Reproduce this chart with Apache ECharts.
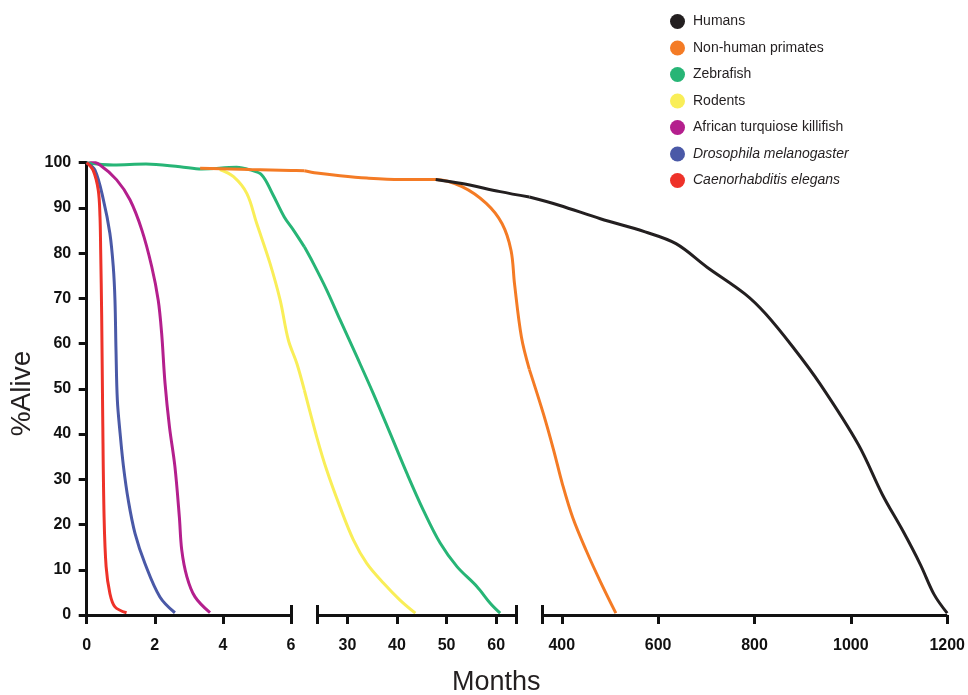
<!DOCTYPE html>
<html>
<head>
<meta charset="utf-8">
<script src="https://cdn.jsdelivr.net/npm/echarts@6/dist/echarts.min.js"></script>
<style>
html,body{margin:0;padding:0;background:#fff;}
#chart{width:968px;height:695px;}
</style>
</head>
<body>
<div id="chart"></div>
<script>
// ---- Data (x in months, y in % alive) ----
// Broken x axis: drawn part of each segment, and each segment's extent up to the gap centres
const segBounds = [[0, 6], [24, 64], [360, 1200]];
const segExtents = [[0, 6.39], [21.31, 66.69], [332.62, 1200]];
const seg1Ticks = [0, 2, 4, 6];
const seg2Ticks = [30, 40, 50, 60];
const seg3Ticks = [400, 600, 800, 1000, 1200];
const yTickStep = 10;

const speciesNames = ['Humans', 'Non-human primates', 'Zebrafish', 'Rodents',
  'African turquiose killifish', 'Drosophila melanogaster', 'Caenorhabditis elegans'];
const speciesColors = ['#231f20', '#f47b25', '#27b576', '#f9ee58', '#b41f8d', '#4a59a7', '#ee3229'];
const italicNames = ['Drosophila melanogaster', 'Caenorhabditis elegans'];

// segment 1 (0–6 months)
const elegans1 = [[0,100],[0.19,98.3],[0.34,93.9],[0.39,88.1],[0.41,80.7],[0.44,66.0],[0.47,43.9],[0.51,21.8],[0.57,10.7],[0.68,4.8],[0.83,1.8],[1.17,0.5]];
const drosophila1 = [[0,100],[0.24,98.4],[0.49,91.8],[0.68,84.4],[0.78,77.0],[0.83,69.6],[0.86,58.6],[0.90,47.5],[0.98,40.2],[1.08,32.8],[1.22,25.4],[1.42,18.0],[1.71,11.4],[2.15,4.0],[2.59,0.5]];
const killifish1 = [[0,100.8],[0.39,99.5],[0.88,96.2],[1.27,91.8],[1.62,85.1],[1.91,77.0],[2.10,69.6],[2.20,62.3],[2.30,51.2],[2.43,41.6],[2.59,32.8],[2.72,21.7],[2.79,14.4],[2.94,8.5],[3.18,4.0],[3.62,0.5]];
const zebrafish1 = [[0,100],[0.78,99.5],[1.74,99.7],[2.74,99.1],[3.38,98.6],[4.4,99.0],[4.8,98.4],[5.14,97.3],[5.45,93.2],[5.8,88.0],[6.07,85.1],[6.39,81.4]];
const rodents1 = [[3.91,98.5],[4.31,96.9],[4.70,93.2],[4.99,86.6],[5.38,77.8],[5.68,69.6],[5.92,60.8],[6.17,55.6],[6.39,49.7]];
const primates1 = [[3.33,98.8],[4.8,98.5],[6.0,98.3],[6.39,98.2]];
// segment 2 (24–64 months)
const zebrafish2 = [[21.31,81.4],[23.1,77.8],[25.8,71.9],[28.5,65.3],[31.9,57.1],[35.2,49.0],[38.6,40.2],[42.0,31.3],[45.3,23.2],[48.7,15.9],[52.1,10.7],[56.1,6.3],[58.8,2.6],[60.8,0.4]];
const rodents2 = [[21.31,49.7],[23.8,39.4],[25.8,32.1],[28.5,23.9],[31.2,16.6],[33.9,11.4],[37.3,7.0],[40.6,3.3],[43.7,0.4]];
const primates2 = [[21.31,98.2],[23.8,97.7],[28.5,97.1],[33.9,96.6],[40.7,96.3],[47.8,96.3],[53.1,94.7],[58.0,91.0],[61.2,86.5],[63.0,80.6],[63.7,73.2],[65.1,61.4],[66.69,54.3]];
const humans2 = [[47.8,96.3],[53.1,95.4],[60.8,93.6],[66.69,92.4]];
// segment 3 (360–1200 months)
const primates3 = [[332.62,54.3],[362,44.4],[383.4,36.3],[401.4,28.9],[422.8,21.5],[451.3,14.1],[480,7.4],[512.2,0.4]];
const humans3 = [[332.62,92.4],[394.3,90.6],[480,87.6],[573,84.7],[637,82.1],[701.5,76.9],[780,71.0],[823,66.6],[880,59.2],[936,51.1],[1015.5,37.7],[1065.6,26.6],[1108.5,18.5],[1144.6,11.1],[1173,4.5],[1200,0.4]];

// drawing order (later on top)
const pieces = [
  ['Zebrafish', 0, zebrafish1], ['Zebrafish', 1, zebrafish2],
  ['Rodents', 0, rodents1], ['Rodents', 1, rodents2],
  ['Non-human primates', 0, primates1], ['Non-human primates', 1, primates2], ['Non-human primates', 2, primates3],
  ['Humans', 1, humans2], ['Humans', 2, humans3],
  ['African turquiose killifish', 0, killifish1],
  ['Drosophila melanogaster', 0, drosophila1],
  ['Caenorhabditis elegans', 0, elegans1]
];

// ---- Layout ----
const gridTop = 162.7, gridBottom = 80;
const gridLeft = [86.7, 304.35, 529.35];
const gridRight = [304.35, 529.35, 952.3];
const ink = '#111';
const fontFam = 'Liberation Sans, Arial, sans-serif';
const labelFont = {fontFamily: fontFam, fontWeight: 'bold', fontSize: 16, color: ink};
const segTicks = [seg1Ticks, seg2Ticks, seg3Ticks];

const grids = gridLeft.map((l, i) => ({left: l, top: gridTop, width: gridRight[i] - l, bottom: gridBottom, containLabel: false}));

const xAxes = [];
segExtents.forEach((ext, i) => {
  const b = segBounds[i];
  const tickVals = Array.from(new Set([b[0], ...segTicks[i], b[1]])).sort((a, c) => a - c);
  xAxes.push({
    type: 'value', gridIndex: i, min: ext[0], max: ext[1], position: 'bottom',
    splitLine: {show: false},
    axisLine: {show: false},
    axisTick: {show: true, inside: false, length: 9, customValues: tickVals, lineStyle: {color: ink, width: 3}},
    axisLabel: Object.assign({show: true, margin: 23, customValues: segTicks[i], formatter: v => String(v)}, labelFont)
  });
});
// break caps (ticks rising above the axis line at segment ends)
const capVals = [[6], [24, 64], [360]];
capVals.forEach((v, i) => {
  xAxes.push({
    type: 'value', gridIndex: i, min: segExtents[i][0], max: segExtents[i][1], position: 'bottom',
    splitLine: {show: false}, axisLine: {show: false}, axisLabel: {show: false},
    axisTick: {show: true, inside: true, length: 10, customValues: v, lineStyle: {color: ink, width: 3}}
  });
});

const yAxes = [0, 1, 2].map(i => ({
  type: 'value', gridIndex: i, min: 0, max: 100, interval: yTickStep,
  show: i === 0,
  splitLine: {show: false},
  axisLine: {show: true, lineStyle: {color: ink, width: 3}},
  axisTick: {show: true, inside: false, length: 8, lineStyle: {color: ink, width: 3}},
  axisLabel: Object.assign({margin: 15.5}, labelFont)
}));

const series = pieces.map(([name, seg, data]) => {
  const color = speciesColors[speciesNames.indexOf(name)];
  return {
    name, type: 'line', xAxisIndex: seg, yAxisIndex: seg, data,
    showSymbol: false, symbol: 'none', smooth: 0.35,
    lineStyle: {color, width: 3}, itemStyle: {color}, emphasis: {disabled: true}, z: 3
  };
});
// x axis line pieces (one per segment, broken between segments)
segBounds.forEach((b, i) => {
  series.push({
    name: 'axis' + i, type: 'line', xAxisIndex: i, yAxisIndex: i, data: [], silent: true, z: 2,
    markLine: {
      silent: true, symbol: ['none', 'none'], label: {show: false}, animation: false,
      lineStyle: {color: ink, width: 3, type: 'solid'}, emphasis: {disabled: true},
      data: [[{coord: [b[0], 0]}, {coord: [b[1], 0]}]]
    }
  });
});

const chart = echarts.init(document.getElementById('chart'), null, {renderer: 'canvas'});
chart.setOption({
  animation: false,
  backgroundColor: '#fff',
  grid: grids,
  xAxis: xAxes,
  yAxis: yAxes,
  legend: {
    data: speciesNames.map((n, i) => ({name: n, itemStyle: {color: speciesColors[i]}})),
    orient: 'vertical', left: 670, top: 14, padding: 0,
    icon: 'circle', itemWidth: 15, itemHeight: 15, itemGap: 11.5,
    formatter: n => italicNames.includes(n) ? '{i|' + n + '}' : '{n|' + n + '}',
    textStyle: {
      fontFamily: fontFam, fontSize: 14, color: '#231f20',
      rich: {
        n: {fontFamily: fontFam, fontSize: 14, color: '#231f20', padding: [0, 0, 0, 3]},
        i: {fontFamily: fontFam, fontSize: 14, color: '#231f20', fontStyle: 'italic', padding: [0, 0, 0, 3]}
      }
    }
  },
  graphic: [{
    type: 'text', left: 452, top: 669,
    style: {text: 'Months', fontFamily: fontFam, fontSize: 27, fill: '#231f20'}
  }, {
    type: 'text', x: 22.5, y: 393.5, rotation: Math.PI / 2,
    style: {text: '%Alive', fontFamily: fontFam, fontSize: 28, fill: '#231f20', align: 'center', verticalAlign: 'middle'}
  }],
  series
});
</script>
</body>
</html>
